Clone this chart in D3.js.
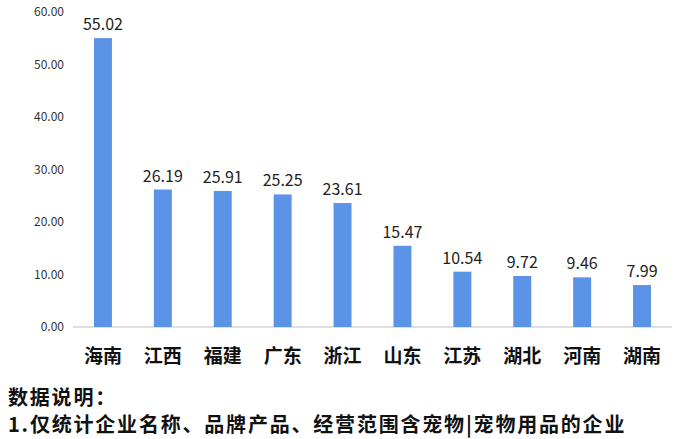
<!DOCTYPE html>
<html><head><meta charset="utf-8">
<script src="https://cdn.jsdelivr.net/npm/d3@7"></script>
<style>body{margin:0;background:#fff}</style></head>
<body><script>
var provinces = ["海南","江西","福建","广东","浙江","山东","江苏","湖北","河南","湖南"];
var values = [55.02,26.19,25.91,25.25,23.61,15.47,10.54,9.72,9.46,7.99];
var yTicks = [0,10,20,30,40,50,60];
var notes = ["数据说明：","1.仅统计企业名称、品牌产品、经营范围含宠物|宠物用品的企业"];

var svg = d3.select("body").append("svg").attr("width",678).attr("height",439);
var font = "'Noto Sans CJK SC','Noto Sans',sans-serif";
var x = d3.scaleBand().domain(provinces).range([73,672]).paddingInner(0.7).paddingOuter(0.35);
var y = d3.scaleLinear().domain([0,60]).range([327,12]);

// y轴刻度
svg.selectAll(".yt").data(yTicks).enter().append("text")
  .attr("x",64).attr("y",d=>y(d)+4).attr("text-anchor","end")
  .style("font-family",font).style("font-size","12px").style("fill","#333")
  .text(d=>d.toFixed(2));
svg.append("line").attr("x1",73).attr("x2",672).attr("y1",327).attr("y2",327)
  .attr("stroke","#bfbfbf").attr("stroke-width",1);

svg.selectAll(".bar").data(values).enter().append("rect")
  .attr("x",(d,i)=>x(provinces[i])).attr("width",x.bandwidth())
  .attr("y",d=>y(d)).attr("height",d=>y(0)-y(d)).attr("fill","#5b93e6");
svg.selectAll(".val").data(values).enter().append("text")
  .attr("x",(d,i)=>x(provinces[i])+x.bandwidth()/2).attr("y",d=>y(d)-8)
  .attr("text-anchor","middle").style("font-family",font).style("font-size","16px").style("fill","#222")
  .text(d=>d.toFixed(2));
svg.selectAll(".cat").data(provinces).enter().append("text")
  .attr("x",d=>x(d)+x.bandwidth()/2).attr("y",363).attr("text-anchor","middle")
  .style("font-family",font).style("font-size","19px").style("font-weight","bold").style("fill","#111")
  .text(d=>d);
svg.selectAll(".note").data(notes).enter().append("text")
  .attr("x",8).attr("y",(d,i)=>405+i*27)
  .style("font-family",font).style("font-size","20px").style("font-weight","bold")
  .style("letter-spacing","1.8px").style("fill","#111")
  .text(d=>d);
</script></body></html>
